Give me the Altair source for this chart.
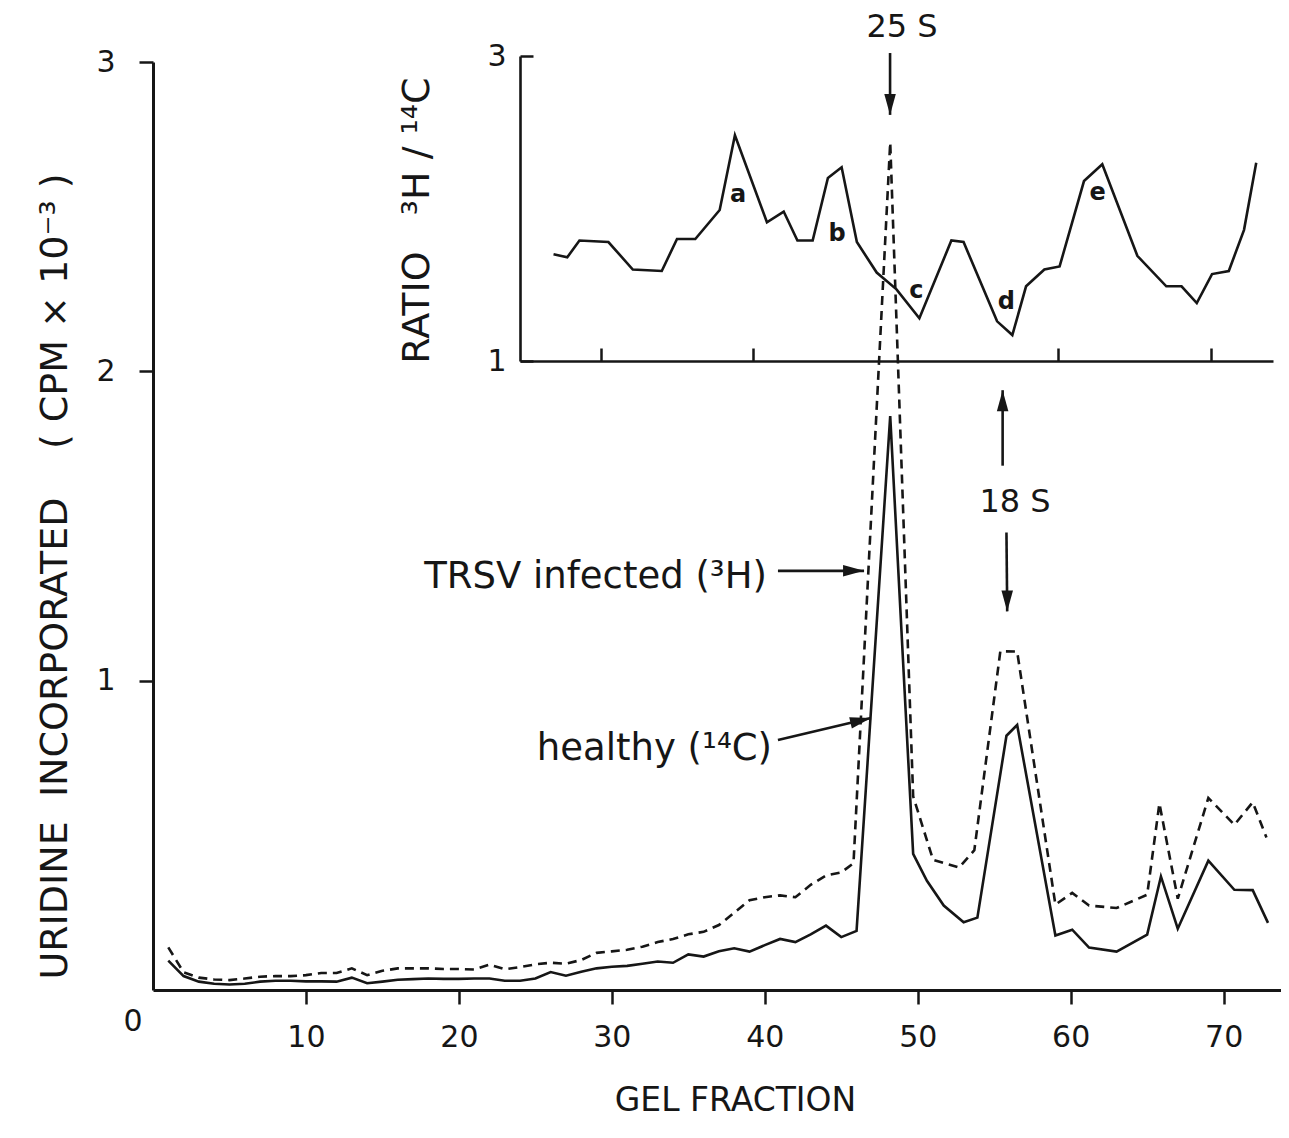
import altair as alt
import pandas as pd

FONT = "DejaVu Sans"
INK = "#161616"
NB = "\u00a0"

# ---------------- main profile: uridine incorporated (CPM x 10^-3) ----------------
healthy_frac = list(range(1, 47)) + [48.2, 49.7, 50.6, 51.7, 53.0, 53.9, 55.8, 56.5, 59.0, 60.1,
                                     61.2, 63.0, 65.0, 65.9, 67.0, 69.0, 70.7, 71.9, 72.9]
healthy_cpm = [0.095, 0.045, 0.027, 0.020, 0.018, 0.020, 0.027, 0.030, 0.030, 0.028,
               0.028, 0.027, 0.040, 0.022, 0.027, 0.033, 0.035, 0.037, 0.036, 0.036,
               0.037, 0.037, 0.030, 0.030, 0.037, 0.058, 0.046, 0.059, 0.070, 0.075,
               0.078, 0.085, 0.092, 0.088, 0.115, 0.108, 0.125, 0.135, 0.124, 0.145,
               0.165, 0.155, 0.180, 0.208, 0.171, 0.191,
               1.855, 0.440, 0.353, 0.273, 0.219, 0.234, 0.822, 0.857, 0.176, 0.195,
               0.137, 0.124, 0.179, 0.367, 0.198, 0.418, 0.324, 0.323, 0.217]

infected_frac = list(range(1, 46)) + [45.8, 48.2, 49.7, 51.0, 52.7, 53.7, 55.4, 56.5, 59.0, 60.1,
                                      61.2, 63.0, 65.0, 65.8, 67.0, 69.0, 70.7, 71.9, 72.8]
infected_cpm = [0.138, 0.057, 0.040, 0.034, 0.032, 0.037, 0.043, 0.045, 0.045, 0.048,
                0.055, 0.055, 0.070, 0.048, 0.062, 0.070, 0.070, 0.070, 0.068, 0.068,
                0.066, 0.082, 0.067, 0.074, 0.083, 0.088, 0.085, 0.097, 0.120, 0.125,
                0.130, 0.140, 0.155, 0.165, 0.180, 0.188, 0.210, 0.250, 0.290, 0.300,
                0.306, 0.300, 0.340, 0.370, 0.380,
                0.410, 2.740, 0.626, 0.421, 0.396, 0.452, 1.095, 1.094, 0.276, 0.314,
                0.273, 0.265, 0.308, 0.603, 0.295, 0.621, 0.534, 0.607, 0.493]

# ---------------- inset: ratio 3H / 14C ----------------
ratio_frac = [26.9, 27.8, 28.6, 30.5, 32.1, 34.0, 35.0, 36.2, 37.8, 38.8,
              40.9, 42.0, 42.9, 43.9, 44.9, 45.8, 46.8, 48.1, 49.4, 50.9,
              53.0, 53.8, 56.0, 57.0, 57.9, 59.1, 60.1, 61.7, 62.9, 65.2,
              67.1, 68.1, 69.1, 70.1, 71.2, 72.2, 73.0]
ratio_val = [1.70, 1.68, 1.79, 1.78, 1.60, 1.59, 1.80, 1.80, 1.99, 2.48,
             1.91, 1.98, 1.79, 1.79, 2.20, 2.27, 1.78, 1.58, 1.47, 1.28,
             1.79, 1.78, 1.26, 1.17, 1.49, 1.60, 1.62, 2.18, 2.29, 1.69,
             1.49, 1.49, 1.38, 1.57, 1.59, 1.86, 2.30]

peak_letters = ["a", "b", "c", "d", "e"]
letter_frac = [39.0, 45.5, 50.7, 56.6, 62.6]
letter_ratio = [2.09, 1.83, 1.46, 1.39, 2.10]

# ---------------- annotations (in main data coordinates) ----------------
center_labels = ["25 S", "18 S"]
center_frac = [48.97, 56.36]
center_cpm = [3.113, 1.576]

side_labels = ["TRSV infected (³H)", "healthy (¹⁴C)"]
side_frac = [40.14, 40.47]
side_cpm = [1.30, 0.744]

arrow_frac = [48.19, 55.55, 55.80, 40.86, 40.86]
arrow_cpm = [3.029, 1.695, 1.479, 1.355, 0.808]
arrow_tip_frac = [48.19, 55.55, 55.85, 46.49, 46.94]
arrow_tip_cpm = [2.829, 1.939, 1.224, 1.355, 0.879]
arrow_heading = [180, 0, 180, 90, 76.7]

origin_label = ["0"]
origin_frac = [0]
origin_cpm = [0]

# ---------------- tables ----------------
healthy_df = pd.DataFrame({"f": healthy_frac, "v": healthy_cpm})
infected_df = pd.DataFrame({"f": infected_frac, "v": infected_cpm})
ratio_df = pd.DataFrame({"f": ratio_frac, "v": ratio_val})
letters_df = pd.DataFrame({"f": letter_frac, "v": letter_ratio, "t": peak_letters})
center_df = pd.DataFrame({"f": center_frac, "v": center_cpm, "t": center_labels})
side_df = pd.DataFrame({"f": side_frac, "v": side_cpm, "t": side_labels})
arrow_df = pd.DataFrame({"f": arrow_frac, "v": arrow_cpm, "f2": arrow_tip_frac,
                         "v2": arrow_tip_cpm, "ang": arrow_heading})
origin_df = pd.DataFrame({"f": origin_frac, "v": origin_cpm, "t": origin_label})

# ---------------- main scales / axes ----------------
main_y_title = "URIDINE" + NB + " INCORPORATED" + NB * 3 + " ( CPM × 10⁻³ )"
inset_y_title = "RATIO" + NB * 2 + " ³H / ¹⁴C"

main_x_axis = alt.Axis(values=[10, 20, 30, 40, 50, 60, 70], title="GEL FRACTION", grid=False,
                       domainWidth=3, domainColor=INK, tickWidth=2.5, tickColor=INK, tickSize=14,
                       labelPadding=18, labelFont=FONT, labelFontSize=30, labelColor=INK,
                       labelFlush=False, labelOverlap=False,
                       titleFont=FONT, titleFontSize=33, titleFontWeight="normal", titleColor=INK,
                       titleX=582, titleY=110, titleAlign="center", titleBaseline="middle")
main_y_axis = alt.Axis(values=[1, 2, 3], format="d", title=main_y_title, grid=False,
                       domainWidth=3, domainColor=INK, tickWidth=2.5, tickColor=INK, tickSize=14,
                       labelPadding=24, labelFont=FONT, labelFontSize=30, labelColor=INK,
                       labelFlush=False, labelOverlap=False,
                       titleFont=FONT, titleFontSize=38, titleFontWeight="normal", titleColor=INK,
                       titleAngle=270, titleX=-98, titleY=514, titleAlign="center",
                       titleBaseline="middle")

main_x_scale = alt.Scale(domain=[0, 73.75], nice=False, zero=False)
main_y_scale = alt.Scale(domain=[0, 3], nice=False, zero=False)

X = alt.X("f:Q", scale=main_x_scale, axis=main_x_axis)
Y = alt.Y("v:Q", scale=main_y_scale, axis=main_y_axis)

healthy_line = alt.Chart(healthy_df).mark_line(color=INK, strokeWidth=2.6).encode(x=X, y=Y)
infected_line = alt.Chart(infected_df).mark_line(color=INK, strokeWidth=2.6,
                                                 strokeDash=[9, 6]).encode(x=X, y=Y)

arrow_shafts = alt.Chart(arrow_df).mark_rule(color=INK, strokeWidth=2.6).encode(
    x=X, y=Y, x2="f2:Q", y2="v2:Q")
arrow_heads = alt.Chart(arrow_df).mark_point(
    shape="M0,0L-0.55,2L0.55,2Z", filled=True, size=440, color=INK, opacity=1, strokeWidth=0
).encode(x=alt.X("f2:Q", scale=main_x_scale, axis=main_x_axis),
         y=alt.Y("v2:Q", scale=main_y_scale, axis=main_y_axis),
         angle=alt.Angle("ang:Q", scale=None))

center_text = alt.Chart(center_df).mark_text(
    font=FONT, fontSize=32, color=INK, align="center", baseline="middle").encode(x=X, y=Y, text="t:N")
side_text = alt.Chart(side_df).mark_text(
    font=FONT, fontSize=37, color=INK, align="right", baseline="alphabetic").encode(x=X, y=Y, text="t:N")
origin_text = alt.Chart(origin_df).mark_text(
    font=FONT, fontSize=30, color=INK, align="center", baseline="middle", dx=-20, dy=32
).encode(x=X, y=Y, text="t:N")

main_layer = alt.layer(healthy_line, infected_line, arrow_shafts, arrow_heads,
                       center_text, side_text, origin_text)

# ---------------- inset scales / axes ----------------
inset_x = alt.X("f:Q",
                scale=alt.Scale(domain=[24.7, 74.1], range=[367, 1120], nice=False, zero=False),
                axis=alt.Axis(orient="top", offset=-299, values=[30, 40, 60, 70], labels=False,
                              title=None, grid=False, domainWidth=2.6, domainColor=INK,
                              tickWidth=2.5, tickColor=INK, tickSize=13))
inset_y = alt.Y("v:Q",
                scale=alt.Scale(domain=[1, 3], range=[299, -6], nice=False, zero=False),
                axis=alt.Axis(orient="right", offset=-761, values=[1, 2, 3], format="d",
                              grid=False, domainWidth=2.6, domainColor=INK, tickWidth=2.5,
                              tickColor=INK, tickSize=13, labelPadding=-27, labelAlign="right",
                              labelBaseline="middle", labelFont=FONT, labelFontSize=30,
                              labelColor=INK, labelFlush=False, labelOverlap=False,
                              title=inset_y_title, titleFont=FONT, titleFontSize=38,
                              titleFontWeight="normal", titleColor=INK, titleAngle=270,
                              titleX=-103, titleY=158, titleAlign="center",
                              titleBaseline="middle"))

ratio_line = alt.Chart(ratio_df).mark_line(color=INK, strokeWidth=2.6).encode(x=inset_x, y=inset_y)
ratio_letters = alt.Chart(letters_df).mark_text(
    font=FONT, fontSize=24, fontWeight="bold", color=INK, align="center", baseline="middle"
).encode(x=inset_x, y=inset_y, text="t:N")

inset_layer = alt.layer(ratio_line, ratio_letters)

chart = alt.layer(main_layer, inset_layer).resolve_scale(
    x="independent", y="independent"
).properties(
    width=1128, height=928,
    autosize=alt.AutoSizeParams(type="none"),
    padding={"left": 145, "top": 54, "right": 0, "bottom": 140},
    background="white",
).configure_view(strokeWidth=0)

chart.save("out.html", embed_options={"renderer": "svg", "actions": False})
